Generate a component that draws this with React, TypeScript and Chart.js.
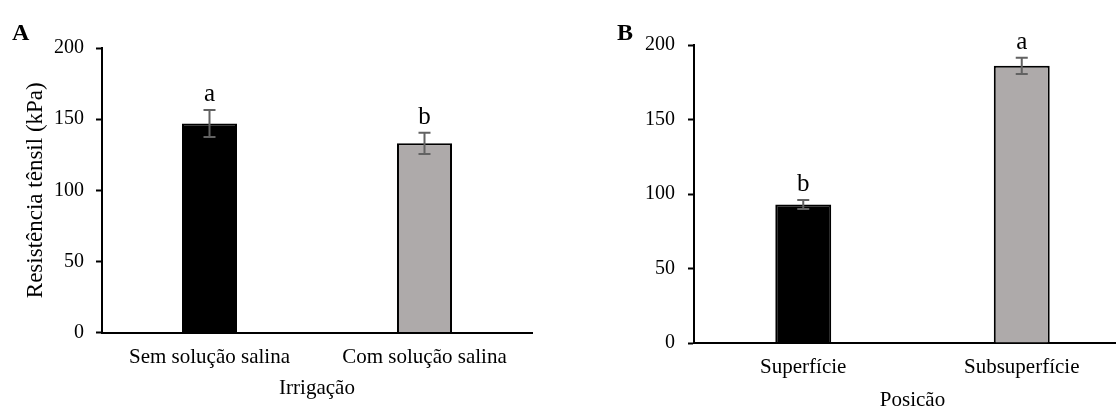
import React, { useEffect, useRef } from "react";
import { Chart, registerables } from "chart.js";
Chart.register(...registerables);

const categoriesA = ["Sem solução salina", "Com solução salina"];
const valuesA = [147, 133];
const errorsA = [9.5, 7.5];
const lettersA = ["a", "b"];

const categoriesB = ["Superfície", "Subsuperfície"];
const valuesB = [93, 186];
const errorsB = [3, 5.5];
const lettersB = ["b", "a"];

const yTicks = [0, 50, 100, 150, 200];
const barColors = ["#000000", "#AEAAAA"];

const FONT = '"Liberation Serif", "Times New Roman", serif';

function makeOverlay(errors: number[], letters: string[], panel: string, panelX: number) {
  return {
    id: "overlay",
    afterDatasetsDraw(chart: any) {
      const ctx = chart.ctx;
      const meta = chart.getDatasetMeta(0);
      const ys = chart.scales.y;
      const data = chart.data.datasets[0].data as number[];
      ctx.save();
      meta.data.forEach((bar: any, i: number) => {
        const v = data[i];
        const e = errors[i];
        const top = ys.getPixelForValue(v + e);
        const bot = ys.getPixelForValue(v - e);
        ctx.strokeStyle = "#626262";
        ctx.lineWidth = 2;
        ctx.beginPath();
        ctx.moveTo(bar.x, top);
        ctx.lineTo(bar.x, bot);
        ctx.moveTo(bar.x - 6, top);
        ctx.lineTo(bar.x + 6, top);
        ctx.moveTo(bar.x - 6, bot);
        ctx.lineTo(bar.x + 6, bot);
        ctx.stroke();
        ctx.fillStyle = "#000";
        ctx.font = `25px ${FONT}`;
        ctx.textAlign = "center";
        ctx.textBaseline = "alphabetic";
        ctx.fillText(letters[i], bar.x, top - 9);
      });
      ctx.fillStyle = "#000";
      ctx.font = `bold 24px ${FONT}`;
      ctx.textAlign = "left";
      ctx.textBaseline = "alphabetic";
      ctx.fillText(panel, panelX, 39.5);
      ctx.restore();
    },
  };
}

interface PanelProps {
  categories: string[];
  values: number[];
  errors: number[];
  letters: string[];
  panel: string;
  panelX: number;
  left: number;
  width: number;
  height: number;
  padTop: number;
  padRight: number;
  yWidth: number;
  xHeight: number;
  yTitle?: string;
  xTitle: string;
  xTitlePad: number;
  yTickPad: number;
}

function Panel(p: PanelProps) {
  const ref = useRef<HTMLCanvasElement | null>(null);
  useEffect(() => {
    if (!ref.current) return;
    const chart = new Chart(ref.current, {
      type: "bar",
      data: {
        labels: p.categories,
        datasets: [
          {
            data: p.values,
            backgroundColor: barColors,
            borderColor: "#000000",
            borderWidth: 2,
            barPercentage: 0.256,
            categoryPercentage: 1,
          },
        ],
      },
      options: {
        responsive: false,
        animation: false,
        layout: { padding: { top: p.padTop, right: p.padRight, bottom: 0, left: 0 } },
        plugins: { legend: { display: false }, tooltip: { enabled: false }, title: { display: false } },
        scales: {
          x: {
            grid: { display: false, drawTicks: false },
            border: { display: true, color: "#000000", width: 2 },
            ticks: { color: "#000", font: { family: FONT, size: 21 }, padding: 12, maxRotation: 0 },
            title: {
              display: true,
              text: p.xTitle,
              color: "#000",
              font: { family: FONT, size: 21 },
              padding: { top: 0, bottom: p.xTitlePad },
            },
            afterFit: (s: any) => {
              s.height = p.xHeight;
            },
          },
          y: {
            min: 0,
            max: 200,
            afterBuildTicks: (s: any) => {
              s.ticks = yTicks.map((v) => ({ value: v }));
            },
            grid: {
              display: true,
              drawOnChartArea: false,
              drawTicks: true,
              tickLength: 6,
              tickWidth: 2,
              tickColor: "#000",
              color: "#000",
            },
            border: { display: true, color: "#000000", width: 2 },
            ticks: { color: "#000", font: { family: FONT, size: 20 }, padding: p.yTickPad },
            title: {
              display: !!p.yTitle,
              text: p.yTitle || "",
              color: "#000",
              font: { family: FONT, size: 23 },
              padding: { top: 22, bottom: 0 },
            },
            afterFit: (s: any) => {
              s.width = p.yWidth;
            },
          },
        },
      },
      plugins: [makeOverlay(p.errors, p.letters, p.panel, p.panelX)],
    } as any);
    return () => chart.destroy();
  }, []);
  return (
    <canvas
      ref={ref}
      width={p.width}
      height={p.height}
      style={{ position: "absolute", left: p.left, top: 0, width: p.width, height: p.height }}
    />
  );
}

export default function App() {
  return (
    <div
      style={{
        position: "fixed",
        left: 0,
        top: 0,
        width: 1116,
        height: 409,
        overflow: "hidden",
        background: "#fff",
      }}
    >
      <Panel
        categories={categoriesA}
        values={valuesA}
        errors={errorsA}
        letters={lettersA}
        panel="A"
        panelX={12}
        left={0}
        width={560}
        height={409}
        padTop={48}
        padRight={28}
        yWidth={102}
        xHeight={76.5}
        yTitle="Resistência tênsil (kPa)"
        xTitle="Irrigação"
        xTitlePad={8}
        yTickPad={12}
      />
      <Panel
        categories={categoriesB}
        values={valuesB}
        errors={errorsB}
        letters={lettersB}
        panel="B"
        panelX={57}
        left={560}
        width={600}
        height={420}
        padTop={45}
        padRight={29}
        yWidth={134}
        xHeight={77}
        xTitle="Posicão"
        xTitlePad={7}
        yTickPad={13}
      />
    </div>
  );
}
